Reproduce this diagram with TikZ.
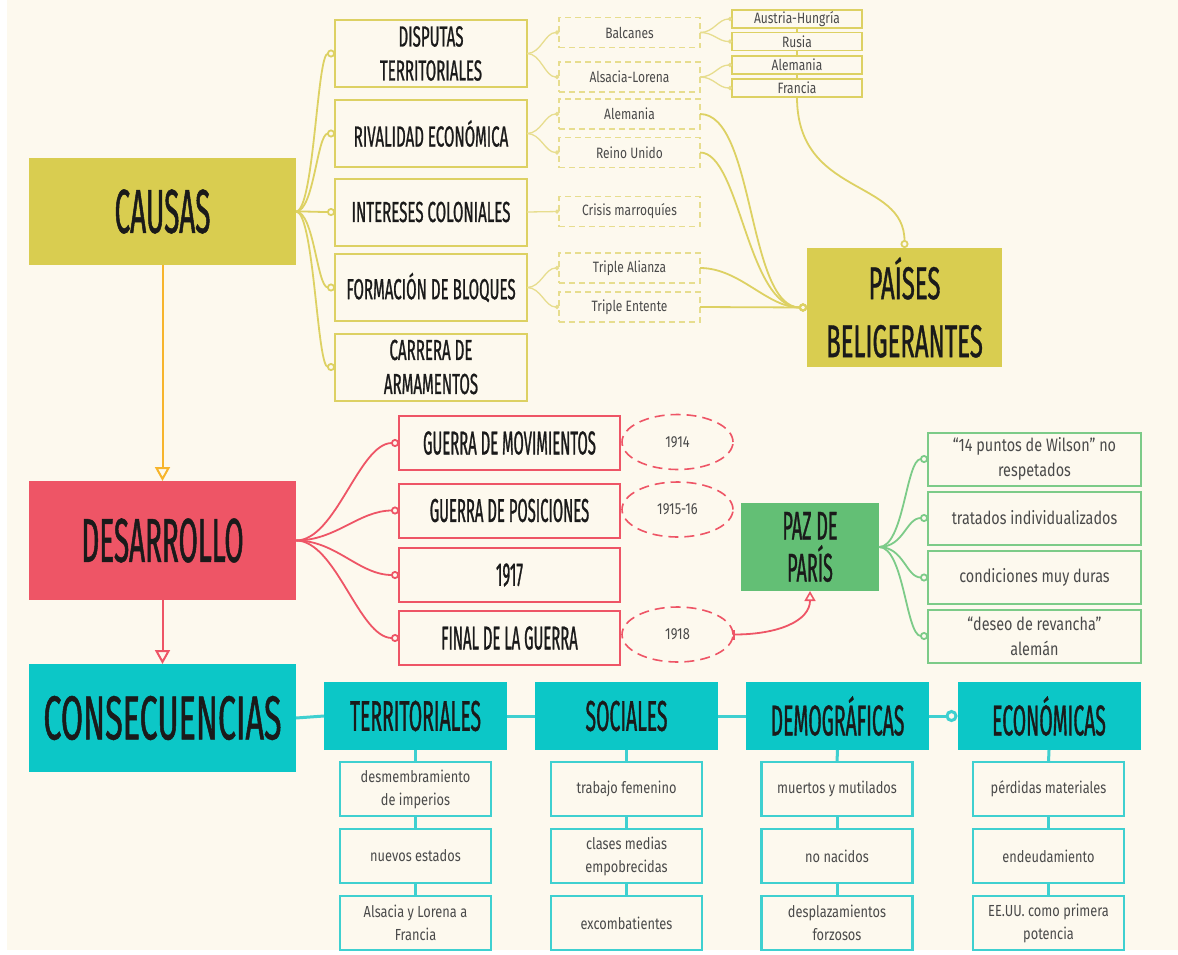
\documentclass[tikz,border=0pt]{standalone}
\usepackage{fontspec}
\setmainfont{Fira Sans}
\newfontfamily\titf[FakeStretch=0.45,FakeBold=0.8]{Fira Sans}
\newfontfamily\titw[FakeStretch=0.52,FakeBold=0.8]{Fira Sans}
\newfontfamily\smallf[FakeStretch=0.8]{Fira Sans}
\usetikzlibrary{arrows.meta,shapes.geometric}
\definecolor{bg}{HTML}{FDF9EE}
\definecolor{oliv}{HTML}{D9CD50}
\definecolor{olivb}{HTML}{DDD163}
\definecolor{olivd}{HTML}{E7DD8E}
\definecolor{pinkc}{HTML}{EE5566}
\definecolor{greenc}{HTML}{63BF75}
\definecolor{greenb}{HTML}{7CCB88}
\definecolor{tealc}{HTML}{0CC7C7}
\definecolor{tealb}{HTML}{3FD0D0}
\definecolor{orangec}{HTML}{F7B52C}
\definecolor{ink}{HTML}{1A1A1A}
\definecolor{gray}{HTML}{4A4A4A}
\begin{document}
\begin{tikzpicture}[x=1pt,y=-1pt,
  every node/.style={inner sep=0pt,outer sep=0pt,align=center},
  big/.style={minimum width=267pt,text=ink,font=\fontsize{62}{62}\titf},
  lvtwo/.style={draw=olivb,line width=2pt,fill=bg,minimum width=192pt,minimum height=67pt,text=ink,font=\fontsize{29}{34}\titw},
  lvthree/.style={draw=olivd,line width=1.4pt,dashed,dash pattern=on 6pt off 4pt,fill=bg,minimum width=141pt,minimum height=30pt,text=gray,font=\fontsize{15}{18}\smallf},
  lvfour/.style={draw=olivb,line width=1.3pt,fill=bg,minimum width=130pt,minimum height=18pt,text=gray,font=\fontsize{15}{16}\smallf},
  devbox/.style={draw=pinkc,line width=2pt,fill=bg,minimum width=221pt,minimum height=54pt,text=ink,font=\fontsize{33}{36}\titf},
  yearell/.style={ellipse,draw=pinkc,line width=1.6pt,dash pattern=on 10pt off 6pt,minimum width=111pt,minimum height=55pt,text=gray,font=\fontsize{16}{18}\smallf},
  grbox/.style={draw=greenb,line width=2pt,fill=bg,minimum width=213pt,minimum height=53pt,text=gray,font=\fontsize{18}{25}\smallf},
  thead/.style={fill=tealc,minimum width=183pt,minimum height=68pt,text=ink,font=\fontsize{43}{43}\titf},
  tsub/.style={draw=tealb,line width=2.4pt,fill=bg,minimum width=151pt,minimum height=54pt,text=gray,font=\fontsize{16}{23}\smallf},
  oline/.style={draw=olivb,line width=1.8pt},
  olinethin/.style={draw=olivd,line width=1.3pt},
  ctip/.style={-{Circle[open,length=8pt,width=8pt]}},
  stip/.style={-{Circle[open,length=4pt,width=4pt]}},
  pline/.style={draw=pinkc,line width=1.8pt},
  gline/.style={draw=greenb,line width=1.8pt},
  tline/.style={draw=tealb,line width=3pt}
]
\useasboundingbox (0,0) rectangle (1178,954);
\fill[white] (0,0) rectangle (1178,954);
\fill[bg] (7,0) rectangle (1178,950);

% main boxes
\node[big,fill=oliv,minimum height=107pt] (causas) at (162.5,211.5) {CAUSAS};
\node[big,fill=pinkc,minimum height=119pt] (desa) at (162.5,540.5) {DESARROLLO};
\node[big,fill=tealc,minimum height=108pt,font=\fontsize{62}{62}\titw] (cons) at (162.5,718) {CONSECUENCIAS};

\draw[draw=orangec,line width=2pt,-{Triangle[open,length=14pt,width=15pt,line width=2pt]}] (causas.south) -- (desa.north);
\draw[draw=pinkc,line width=2pt,-{Triangle[open,length=14pt,width=15pt,line width=2pt]}] (desa.south) -- (cons.north);

% causes level 2
\node[lvtwo] (disp) at (431,53.5) {DISPUTAS\\TERRITORIALES};
\node[lvtwo] (riva) at (431,133.5) {RIVALIDAD ECONÓMICA};
\node[lvtwo] (inte) at (431,212) {INTERESES COLONIALES};
\node[lvtwo] (form) at (431,287.5) {FORMACIÓN DE BLOQUES};
\node[lvtwo] (carr) at (431,367) {CARRERA DE\\ARMAMENTOS};

\foreach \n in {disp,riva,inte,form,carr}
  \draw[oline,ctip] (causas.east) .. controls +(18,0) and +(-18,0) .. (\n.west);

% level 3
\node[lvthree] (balc) at (629.5,32.5) {Balcanes};
\node[lvthree] (alsa) at (629.5,77) {Alsacia-Lorena};
\node[lvthree] (alem) at (629.5,114) {Alemania};
\node[lvthree] (rein) at (629.5,152.5) {Reino Unido};
\node[lvthree] (cris) at (629.5,211.5) {Crisis marroquíes};
\node[lvthree] (tali) at (629.5,268) {Triple Alianza};
\node[lvthree] (tent) at (629.5,307) {Triple Entente};

\draw[olinethin,stip] (disp.east) .. controls +(14,0) and +(-14,0) .. (balc.west);
\draw[olinethin,stip] (disp.east) .. controls +(14,0) and +(-14,0) .. (alsa.west);
\draw[olinethin,stip] (riva.east) .. controls +(14,0) and +(-14,0) .. (alem.west);
\draw[olinethin,stip] (riva.east) .. controls +(14,0) and +(-14,0) .. (rein.west);
\draw[olinethin,stip] (inte.east) -- (cris.west);
\draw[olinethin,stip] (form.east) .. controls +(14,0) and +(-14,0) .. (tali.west);
\draw[olinethin,stip] (form.east) .. controls +(14,0) and +(-14,0) .. (tent.west);

% level 4
\node[lvfour] (aust) at (797,19) {Austria-Hungría};
\node[lvfour] (rusi) at (797,41.5) {Rusia};
\node[lvfour] (alef) at (797,65) {Alemania};
\node[lvfour] (fran) at (797,88) {Francia};

\draw[olinethin,stip] (balc.east) .. controls +(14,0) and +(-14,0) .. (aust.west);
\draw[olinethin,stip] (balc.east) .. controls +(14,0) and +(-14,0) .. (rusi.west);
\draw[olinethin,stip] (alsa.east) .. controls +(14,0) and +(-14,0) .. (alef.west);
\draw[olinethin,stip] (alsa.east) .. controls +(14,0) and +(-14,0) .. (fran.west);
\draw[oline,line width=2.5pt] (aust.south) -- (rusi.north);
\draw[oline,line width=2.5pt] (rusi.south) -- (alef.north);
\draw[oline,line width=2.5pt] (alef.south) -- (fran.north);

% paises
\node[fill=oliv,minimum width=195pt,minimum height=119pt,text=ink,font=\fontsize{46}{58}\titw] (pais) at (904.5,307.5) {PAÍSES\\BELIGERANTES};
\draw[oline,ctip] (fran.south) .. controls +(0,100) and +(0,-70) .. (pais.north);
\draw[oline,ctip] (alem.east) .. controls +(55,0) and +(-60,0) .. (pais.west);
\draw[oline,ctip] (rein.east) .. controls +(40,0) and +(-60,0) .. (pais.west);
\draw[oline,ctip] (tali.east) .. controls +(40,0) and +(-40,0) .. (pais.west);
\draw[oline,ctip] (tent.east) -- (pais.west);

% desarrollo
\node[devbox] (gmov) at (509.5,443) {GUERRA DE MOVIMIENTOS};
\node[devbox] (gpos) at (509.5,510.5) {GUERRA DE POSICIONES};
\node[devbox] (y17) at (509.5,575) {1917};
\node[devbox] (fin) at (509.5,638) {FINAL DE LA GUERRA};
\foreach \n in {gmov,gpos,y17,fin}
  \draw[pline,ctip] (desa.east) .. controls +(40,0) and +(-40,0) .. (\n.west);

\node[yearell] (e14) at (677.5,442) {1914};
\node[yearell] (e15) at (677.5,509.5) {1915-16};
\node[yearell] (e18) at (677.5,634.5) {1918};

% paz de paris
\node[fill=greenc,minimum width=138pt,minimum height=88pt,text=ink,font=\fontsize{40}{42}\titf] (paz) at (810,547) {PAZ DE\\PARÍS};
\draw[pline,{Bar[width=10pt,line width=1.5pt]}-{Triangle[open,length=10pt,width=11pt,line width=1.6pt]}] (e18.east) .. controls +(45,0) and +(0,30) .. (paz.south);

\node[grbox] (g1) at (1034.5,459) {“14 puntos de Wilson” no\\respetados};
\node[grbox] (g2) at (1034.5,518) {tratados individualizados};
\node[grbox] (g3) at (1034.5,577.5) {condiciones muy duras};
\node[grbox] (g4) at (1034.5,636) {“deseo de revancha”\\alemán};
\foreach \n in {g1,g2,g3,g4}
  \draw[gline,ctip] (paz.east) .. controls +(25,0) and +(-22,0) .. (\n.west);

% consecuencias
\node[thead] (terr) at (415.5,716) {TERRITORIALES};
\node[thead] (soci) at (626.5,716) {SOCIALES};
\node[thead] (demo) at (837.5,716) {DEMOGRÁFICAS};
\node[thead] (econ) at (1049,716) {ECONÓMICAS};
\draw[tline] (cons.east) -- (terr.west);
\draw[tline] (terr.east) -- (soci.west);
\draw[tline] (soci.east) -- (demo.west);
\draw[tline,-{Circle[open,length=12pt,width=12pt,line width=3pt]}] (demo.east) -- (econ.west);

\node[tsub] (t1) at (415.5,789) {desmembramiento\\de imperios};
\node[tsub] (t2) at (415.5,856) {nuevos estados};
\node[tsub] (t3) at (415.5,923) {Alsacia y Lorena a\\Francia};
\node[tsub] (s1) at (626.5,789) {trabajo femenino};
\node[tsub] (s2) at (626.5,856) {clases medias\\empobrecidas};
\node[tsub] (s3) at (626.5,923) {excombatientes};
\node[tsub] (d1) at (837,789) {muertos y mutilados};
\node[tsub] (d2) at (837,856) {no nacidos};
\node[tsub] (d3) at (837,923) {desplazamientos\\forzosos};
\node[tsub] (c1) at (1048.5,789) {pérdidas materiales};
\node[tsub] (c2) at (1048.5,856) {endeudamiento};
\node[tsub] (c3) at (1048.5,923) {EE.UU. como primera\\potencia};
\foreach \h/\a/\b/\c in {terr/t1/t2/t3,soci/s1/s2/s3,demo/d1/d2/d3,econ/c1/c2/c3}{
  \draw[tline] (\h.south) -- (\a.north);
  \draw[tline] (\a.south) -- (\b.north);
  \draw[tline] (\b.south) -- (\c.north);
}
\end{tikzpicture}
\end{document}
